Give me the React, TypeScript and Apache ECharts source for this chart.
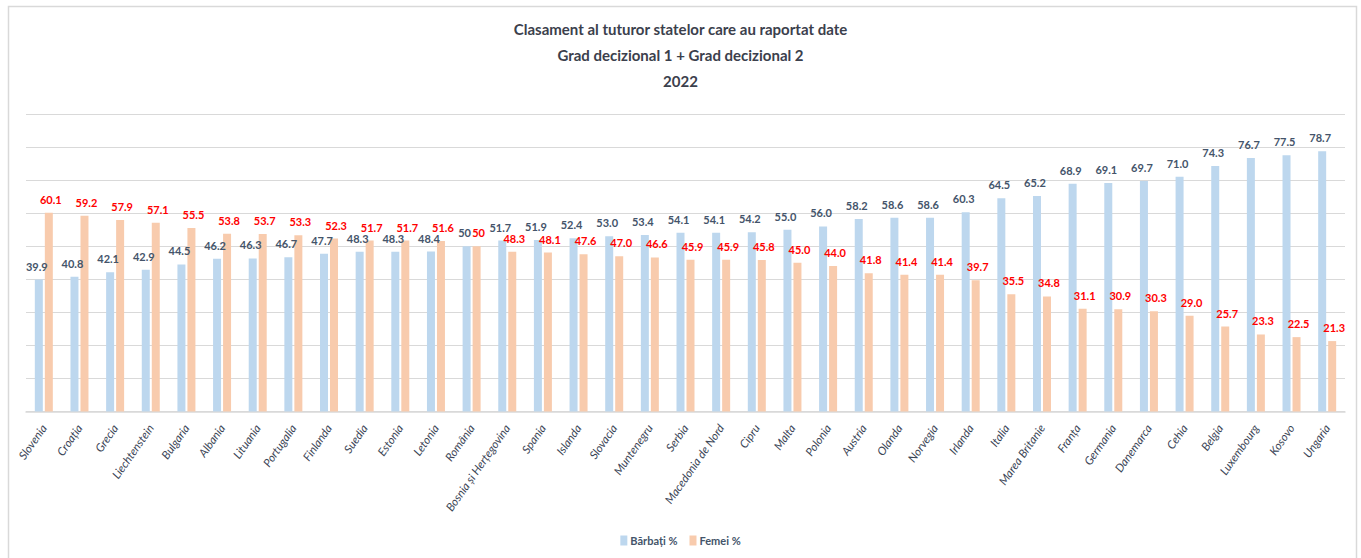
import React, { useEffect, useRef } from "react";
import * as echarts from "echarts";

const categories = [
  "Slovenia", "Croația", "Grecia", "Liechtenstein", "Bulgaria", "Albania", "Lituania",
  "Portugalia", "Finlanda", "Suedia", "Estonia", "Letonia", "România",
  "Bosnia și Herțegovina", "Spania", "Islanda", "Slovacia", "Muntenegru", "Serbia",
  "Macedonia de Nord", "Cipru", "Malta", "Polonia", "Austria", "Olanda", "Norvegia",
  "Irlanda", "Italia", "Marea Britanie", "Franța", "Germania", "Danemarca", "Cehia",
  "Belgia", "Luxembourg", "Kosovo", "Ungaria",
];

const men = [
  39.9, 40.8, 42.1, 42.9, 44.5, 46.2, 46.3, 46.7, 47.7, 48.3, 48.3, 48.4, 50,
  51.7, 51.9, 52.4, 53.0, 53.4, 54.1, 54.1, 54.2, 55.0, 56.0, 58.2, 58.6, 58.6,
  60.3, 64.5, 65.2, 68.9, 69.1, 69.7, 71.0, 74.3, 76.7, 77.5, 78.7,
];

const women = [
  60.1, 59.2, 57.9, 57.1, 55.5, 53.8, 53.7, 53.3, 52.3, 51.7, 51.7, 51.6, 50,
  48.3, 48.1, 47.6, 47.0, 46.6, 45.9, 45.9, 45.8, 45.0, 44.0, 41.8, 41.4, 41.4,
  39.7, 35.5, 34.8, 31.1, 30.9, 30.3, 29.0, 25.7, 23.3, 22.5, 21.3,
];

// categories whose labels are shown without a decimal
const wholeLabelCategories = ["România"];

const seriesNames = ["Bărbați %", "Femei %"];
const titleLines = [
  "Clasament al tuturor statelor care au raportat date",
  "Grad decizional 1 + Grad decizional 2",
  "2022",
];

const FONT = "Lato, 'Noto Sans', sans-serif";

const fmt = (p: any) =>
  wholeLabelCategories.includes(categories[p.dataIndex])
    ? String(Math.round(p.value))
    : Number(p.value).toFixed(1);

export default function App() {
  const ref = useRef<HTMLDivElement>(null);

  useEffect(() => {
    if (!ref.current) return;
    const chart = echarts.init(ref.current, null, { renderer: "svg" });
    chart.setOption({
      animation: false,
      backgroundColor: "#ffffff",
      title: {
        text: titleLines.join("\n"),
        left: "center",
        top: 11,
        textStyle: {
          fontFamily: FONT,
          fontSize: 15,
          fontWeight: "bold",
          color: "#3b404c",
          lineHeight: 26,
        },
      },
      graphic: [
        {
          type: "rect",
          shape: { x: 8.5, y: 6.5, width: 1348, height: 600 },
          style: { fill: "none", stroke: "#d9d9d9", lineWidth: 1.5 },
          silent: true,
        },
      ],
      legend: {
        data: seriesNames,
        bottom: 7,
        left: "center",
        itemWidth: 7,
        itemHeight: 10,
        itemGap: 12,
        icon: "rect",
        textStyle: { fontFamily: FONT, fontSize: 11, fontWeight: "bold", color: "#44546a", padding: [0, 0, 0, -2] },
      },
      grid: { left: 26, right: 16, top: 114, bottom: 146.5, containLabel: false },
      xAxis: {
        type: "category",
        data: categories,
        axisLine: { lineStyle: { color: "#d9d9d9", width: 1.5 } },
        axisTick: { show: false },
        axisLabel: {
          interval: 0,
          rotate: 55,
          margin: 14,
          fontFamily: FONT,
          fontSize: 11.5,
          fontStyle: "italic",
          color: "#3b4556",
        },
      },
      yAxis: {
        type: "value",
        min: 0,
        max: 90,
        interval: 10,
        axisLabel: { show: false },
        axisLine: { show: false },
        axisTick: { show: false },
        splitLine: { lineStyle: { color: "#d9d9d9", width: 1.2 } },
      },
      series: [
        {
          name: seriesNames[0],
          type: "bar",
          data: men,
          barWidth: 8,
          barGap: "25%",
          itemStyle: { color: "#bdd7ee" },
          label: {
            show: true,
            position: "top",
            distance: 8,
            offset: [-2, 0],
            formatter: fmt,
            fontFamily: FONT,
            fontSize: 11,
            fontWeight: "bold",
            color: "#44546a",
          },
        },
        {
          name: seriesNames[1],
          type: "bar",
          data: women,
          barWidth: 8,
          itemStyle: { color: "#f8cbad" },
          label: {
            show: true,
            position: "top",
            distance: 8,
            offset: [2, 0],
            formatter: fmt,
            fontFamily: FONT,
            fontSize: 11,
            fontWeight: "bold",
            color: "#ff0000",
          },
        },
      ],
    });
    return () => chart.dispose();
  }, []);

  return (
    <div
      ref={ref}
      style={{ position: "absolute", left: 0, top: 0, width: 1361, height: 558 }}
    />
  );
}
